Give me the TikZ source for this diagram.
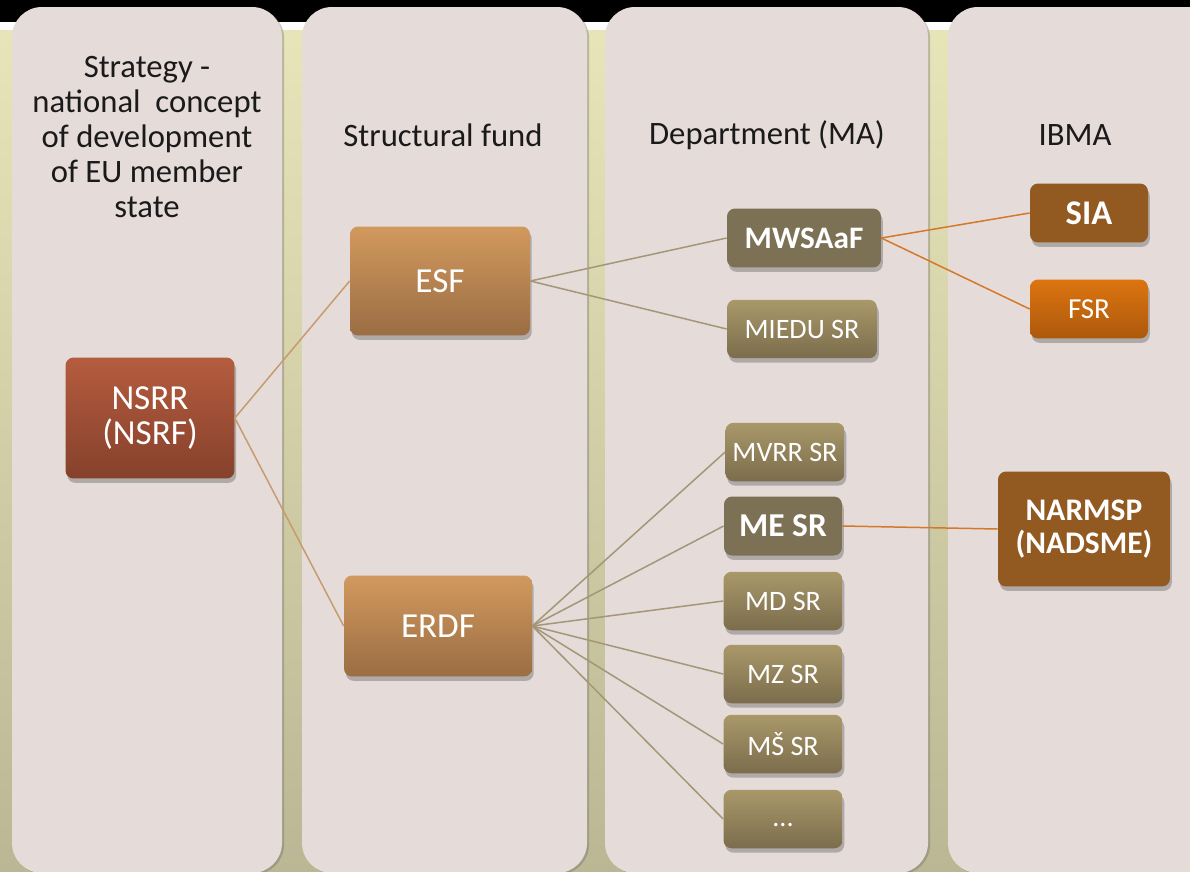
\documentclass[tikz,border=0pt]{standalone}
\usepackage{fontspec}
\setmainfont{Carlito}
\usetikzlibrary{shadows}
\definecolor{colfill}{HTML}{E5DBD9}
\definecolor{bgtop}{HTML}{E9E6BA}
\definecolor{bgbot}{HTML}{BBB794}
\definecolor{nsrrtop}{HTML}{B55C3F}
\definecolor{nsrrbot}{HTML}{85412B}
\definecolor{fundtop}{HTML}{D2995E}
\definecolor{fundbot}{HTML}{9A6D43}
\definecolor{deptflat}{HTML}{7D7155}
\definecolor{depttop}{HTML}{A99869}
\definecolor{deptbot}{HTML}{7B6D4D}
\definecolor{ibflat}{HTML}{925920}
\definecolor{fsrtop}{HTML}{DC7510}
\definecolor{fsrbot}{HTML}{AD580C}
\definecolor{lnsrr}{HTML}{C79B6E}
\definecolor{lfund}{HTML}{A49677}
\definecolor{lorange}{HTML}{D4782A}
\definecolor{txt}{HTML}{1A1A1A}
\tikzset{
  x=0.02cm, y=-0.02cm,
  column/.style={fill=colfill, rounded corners=0.6cm,
     drop shadow={shadow xshift=1.2pt, shadow yshift=-0.8pt, opacity=0.35, fill=black!60}},
  header/.style={align=center, text=txt, font=\fontsize{18.6}{19.8}\selectfont, inner sep=0pt},
  boxbase/.style={rounded corners=0.16cm, text=white, align=center, inner sep=0pt,
     drop shadow={shadow xshift=1pt, shadow yshift=-2.5pt, opacity=0.35, fill=black!70}},
  bignode/.style={boxbase, top color=fundtop, bottom color=fundbot,
     font=\fontsize{20}{21}\selectfont},
  nsrrnode/.style={boxbase, top color=nsrrtop, bottom color=nsrrbot,
     font=\fontsize{20}{19.8}\selectfont},
  deptnode/.style={boxbase, top color=depttop, bottom color=deptbot,
     minimum width=2.38cm, minimum height=1.17cm, font=\fontsize{16}{18}\selectfont},
  deptbold/.style={boxbase, fill=deptflat, minimum height=1.18cm},
  ibnode/.style={boxbase, fill=ibflat},
  fsrnode/.style={boxbase, top color=fsrtop, bottom color=fsrbot,
     minimum width=2.36cm, minimum height=1.18cm, font=\fontsize{16.5}{18}\selectfont},
  conn/.style={line width=0.85pt},
}
\begin{document}
\begin{tikzpicture}
\useasboundingbox (0,0) rectangle (1190,872);
\clip (0,0) rectangle (1190,872);
% background
\shade[top color=bgtop, bottom color=bgbot] (0,0) rectangle (1190,872);
\fill[black] (0,0) rectangle (1190,22);
\fill[white] (0,22) rectangle (1190,30);
% columns
\path[column] (12,7) rectangle (282,873);
\path[column] (302,7) rectangle (587,873);
\path[column] (605,7) rectangle (928,873);
\path[column] (948,7) rectangle (1240,873);
% headers
\node[header] (h1) at (147,137) {Strategy -\\national \ concept\\of development\\of EU member\\state};
\node[header] (h2) at (443,135) {Structural fund};
\node[header] (h3) at (767,135) {Department (MA)};
\node[header] (h4) at (1075,135) {IBMA};
% nodes
\node[nsrrnode, minimum width=3.38cm, minimum height=2.42cm] (nsrr) at (150,418) {NSRR\\(NSRF)};
\node[bignode, minimum width=3.6cm, minimum height=2.18cm] (esf) at (440,281) {ESF};
\node[bignode, minimum width=3.76cm, minimum height=2.02cm] (erdf) at (438,626) {ERDF};
\node[deptbold, minimum width=3.08cm, font=\fontsize{17.8}{19}\selectfont\bfseries] (mw) at (804,238) {MWSAaF};
\node[deptnode, minimum width=3.0cm] (miedu) at (802,329) {MIEDU SR};
\node[ibnode, minimum width=2.36cm, minimum height=1.18cm, font=\fontsize{19.7}{21}\selectfont\bfseries] (sia) at (1089,213) {SIA};
\node[fsrnode] (fsr) at (1089,309) {FSR};
\node[deptnode] (mvrr) at (785,452) {MVRR SR};
\node[deptbold, minimum width=2.36cm, font=\fontsize{19}{20}\selectfont\bfseries] (me) at (783,526) {ME SR};
\node[ibnode, minimum width=3.44cm, minimum height=2.3cm, font=\fontsize{17.9}{18.7}\selectfont\bfseries] (narmsp) at (1084,529) {NARMSP\\(NADSME)};
\node[deptnode] (md) at (783,601) {MD SR};
\node[deptnode] (mz) at (783,674) {MZ SR};
\node[deptnode] (ms) at (783,744) {MŠ SR};
\node[deptnode, text height=9pt, text depth=0pt] (dots) at (783,819) {...};
% connectors
\draw[conn, lnsrr] (nsrr.east) -- (esf.west);
\draw[conn, lnsrr] (nsrr.east) -- (erdf.west);
\draw[conn, lfund] (esf.east) -- (mw.west);
\draw[conn, lfund] (esf.east) -- (miedu.west);
\foreach \t in {mvrr,me,md,mz,ms,dots}
  \draw[conn, lfund] (erdf.east) -- (\t.west);
\draw[conn, lorange] (mw.east) -- (sia.west);
\draw[conn, lorange] (mw.east) -- (fsr.west);
\draw[conn, lorange] (me.east) -- (narmsp.west);
\end{tikzpicture}
\end{document}
